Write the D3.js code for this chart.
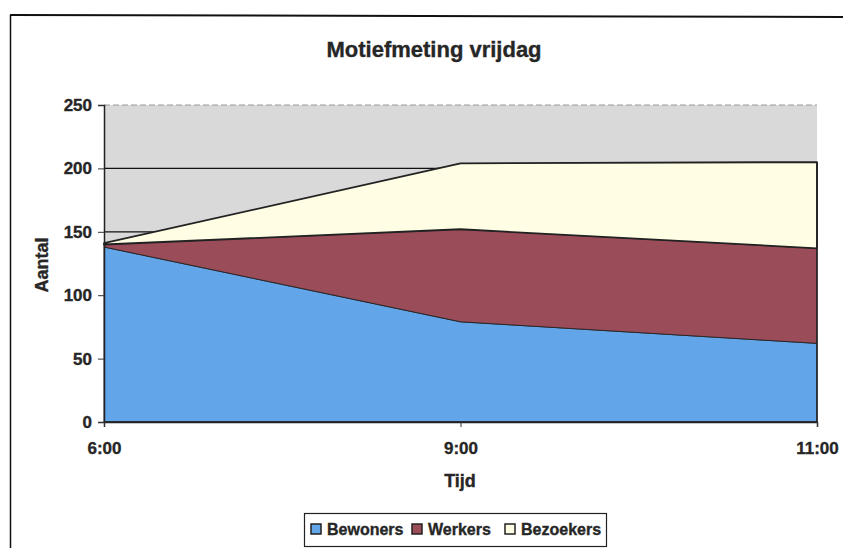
<!DOCTYPE html>
<html>
<head>
<meta charset="utf-8">
<script src="https://cdn.jsdelivr.net/npm/d3@7"></script>
<style>
  body { margin: 0; background: #fff; }
  text { font-family: "Liberation Sans", Arial, sans-serif; font-weight: bold; fill: #262626; stroke: #262626; stroke-width: 0.35px; }
</style>
</head>
<body>
<svg id="chart" width="843" height="548"></svg>
<script>
var width = 843;
var height = 548;

// data
var times = ["6:00", "9:00", "11:00"];
var series_names = ["Bewoners", "Werkers", "Bezoekers"];
var bewoners = [138, 79, 62];
var werkers = [2, 73, 75];
var bezoekers = [1, 52, 68];
var y_ticks = [0, 50, 100, 150, 200, 250];

var colors = {
    Bewoners: "#62a5e9",
    Werkers: "#9a4c59",
    Bezoekers: "#fffde3"
};

var rows = times.map(function(t, i) {
    return { time: t, Bewoners: bewoners[i], Werkers: werkers[i], Bezoekers: bezoekers[i] };
});

var margin = { left: 104, right: 26, top: 105, bottom: 126 };

const svg = d3.select("#chart");

// chart area frame (scanned page edges)
svg.append("line").attr("x1", 10).attr("y1", 15).attr("x2", 843).attr("y2", 17)
    .attr("stroke", "#111").attr("stroke-width", 2);
svg.append("line").attr("x1", 10.5).attr("y1", 15).attr("x2", 10.5).attr("y2", 548)
    .attr("stroke", "#111").attr("stroke-width", 1.5);

var x = d3.scalePoint()
    .domain(times)
    .range([margin.left, width - margin.right]);

var y = d3.scaleLinear()
    .domain([0, 250])
    .range([height - margin.bottom, margin.top]);

// plot background
svg.append("rect")
    .attr("x", margin.left)
    .attr("y", y(250))
    .attr("width", x("11:00") - margin.left)
    .attr("height", y(0) - y(250))
    .attr("fill", "#d9d9d9");

// gridlines
svg.append("g")
    .selectAll("line")
    .data(y_ticks.filter(function(d) { return d > 0; }))
    .enter().append("line")
    .attr("x1", margin.left)
    .attr("x2", x("11:00"))
    .attr("y1", function(d) { return y(d); })
    .attr("y2", function(d) { return y(d); })
    .attr("stroke", function(d) { return d == 250 ? "#9a9a9a" : "#111"; })
    .attr("stroke-width", 1.2)
    .attr("stroke-dasharray", function(d) { return d == 250 ? "6,3" : null; });

// stacked areas
var stack = d3.stack().keys(series_names);
var layers = stack(rows);

var area = d3.area()
    .x(function(d) { return x(d.data.time); })
    .y0(function(d) { return y(d[0]); })
    .y1(function(d) { return y(d[1]); });

svg.append("g")
    .selectAll("path")
    .data(layers)
    .enter().append("path")
    .attr("d", area)
    .attr("fill", function(d) { return colors[d.key]; })
    .attr("stroke", "#222")
    .attr("stroke-width", function(d) { return d.key == "Bezoekers" ? 1.8 : 0.9; })
    .attr("stroke-linejoin", "round");

// plot area right/bottom border
svg.append("path")
    .attr("d", "M" + x("11:00") + "," + y(205) + "V" + y(0) + "H" + margin.left)
    .attr("fill", "none")
    .attr("stroke", "#222")
    .attr("stroke-width", 1.5);

function style_ticks(g) {
    g.select(".domain").attr("stroke", "#222").attr("stroke-width", 1.5);
    g.selectAll(".tick line").attr("stroke", "#333");
    g.selectAll(".tick text")
        .style("font-family", "'Liberation Sans', Arial, sans-serif")
        .style("font-weight", "bold")
        .style("font-size", "17px")
        .attr("fill", "#262626");
}

// y axis
var y_axis = d3.axisLeft(y)
    .tickValues(y_ticks)
    .tickSize(6)
    .tickPadding(6);

svg.append("g")
    .attr("transform", "translate(" + margin.left + ",0)")
    .call(y_axis)
    .call(style_ticks);

// x axis
var x_axis = d3.axisBottom(x)
    .tickSize(5)
    .tickPadding(15);

svg.append("g")
    .attr("transform", "translate(0," + y(0) + ")")
    .call(x_axis)
    .call(style_ticks);

// titles
svg.append("text")
    .attr("x", 434)
    .attr("y", 57)
    .attr("text-anchor", "middle")
    .style("font-size", "22px")
    .text("Motiefmeting vrijdag");

svg.append("text")
    .attr("x", 460)
    .attr("y", 487)
    .attr("text-anchor", "middle")
    .style("font-size", "18px")
    .text("Tijd");

svg.append("text")
    .attr("transform", "translate(48,265) rotate(-90)")
    .attr("text-anchor", "middle")
    .style("font-size", "18px")
    .text("Aantal");

// legend
var legend = svg.append("g");
legend.append("rect")
    .attr("x", 304.5).attr("y", 513.5)
    .attr("width", 302).attr("height", 33)
    .attr("fill", "#fff").attr("stroke", "#222").attr("stroke-width", 1.2);

var legend_x = [311, 412, 505];
var items = legend.selectAll("g.item")
    .data(series_names)
    .enter().append("g")
    .attr("class", "item")
    .attr("transform", function(d, i) { return "translate(" + legend_x[i] + ",524)"; });

items.append("rect")
    .attr("width", 10).attr("height", 10)
    .attr("fill", function(d) { return colors[d]; })
    .attr("stroke", "#222").attr("stroke-width", 1.5);

items.append("text")
    .attr("x", 16)
    .attr("y", 11)
    .style("font-size", "16px")
    .text(function(d) { return d; });
</script>
</body>
</html>
